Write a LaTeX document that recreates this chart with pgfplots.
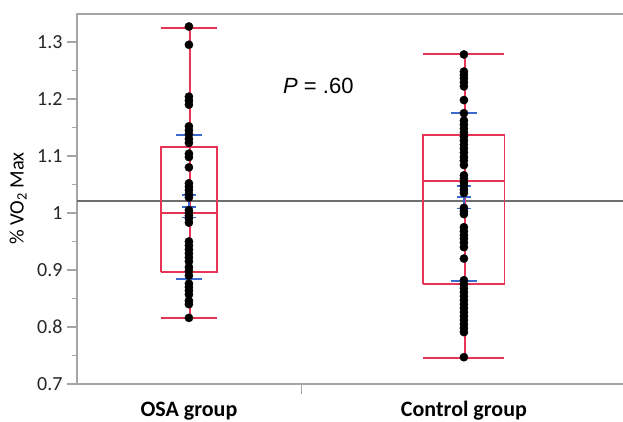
\documentclass[border=0pt]{standalone}
\usepackage{pgfplots}
\usepackage{pgfplotstable}
\pgfplotsset{compat=1.18}
\usepackage{fontspec}
\setmainfont{Carlito}
\newfontfamily\arialf{Liberation Sans}

\definecolor{boxred}{RGB}{232,52,86}
\definecolor{ciblue}{RGB}{60,105,205}
\definecolor{framegray}{RGB}{165,165,165}
\definecolor{meangray}{RGB}{110,110,110}

% individual values
\pgfplotstableread{
v
1.327
1.295
1.204
1.197
1.190
1.152
1.145
1.138
1.130
1.123
1.104
1.098
1.080
1.052
1.046
1.040
1.033
1.027
1.005
1.000
0.995
0.990
0.983
0.950
0.943
0.936
0.929
0.922
0.915
0.905
0.898
0.890
0.876
0.870
0.864
0.857
0.846
0.840
0.816
}\osadata

\pgfplotstableread{
v
1.278
1.248
1.242
1.236
1.229
1.222
1.198
1.175
1.162
1.155
1.148
1.141
1.134
1.127
1.120
1.113
1.106
1.098
1.092
1.084
1.066
1.060
1.054
1.048
1.041
1.035
1.009
1.003
0.998
0.975
0.968
0.961
0.955
0.948
0.940
0.920
0.882
0.875
0.868
0.861
0.854
0.847
0.840
0.833
0.826
0.819
0.812
0.805
0.798
0.791
0.747
}\ctrldata

\begin{document}
\begin{tikzpicture}
\begin{axis}[
    at={(77pt,38pt)}, anchor=south west,
    scale only axis,
    width=550pt, height=370pt,
    xmin=-0.407, xmax=1.593,
    ymin=0.7, ymax=1.349,
    clip=false,
    axis line style={framegray, line width=1.6pt},
    tick align=outside,
    ytick pos=left, xtick pos=bottom,
    ytick={0.7,0.8,...,1.31},
    minor y tick num=1,
    major tick length=10pt, minor tick length=5pt,
    tick style={framegray, line width=1.2pt},
    xtick={0.41},
    xticklabels={},
    yticklabel style={font=\fontsize{20}{24}\selectfont, text=black!85, xshift=-1pt},
    /pgf/number format/assume math mode=true,
    ylabel={\% VO\textsubscript{2} Max},
    every axis y label/.style={at={(axis description cs:-0.107,0.501)}, rotate=90, anchor=center, font=\fontsize{20.5}{24}\selectfont},
]

% grand mean
\addplot[meangray, line width=1.3pt] coordinates {(-0.407,1.021) (1.593,1.021)};

% individual points
\addplot[only marks, mark=*, mark size=4.1pt, black] table[x expr=0, y=v] {\osadata};
\addplot[only marks, mark=*, mark size=4.1pt, black] table[x expr=1, y=v] {\ctrldata};

% box plots: box, median, whiskers and caps
\addplot[boxred, line width=1.8pt, unbounded coords=jump] coordinates {
    (-0.102,0.896) (0.102,0.896) (0.102,1.116) (-0.102,1.116) (-0.102,0.896) (nan,nan)
    (-0.102,1.000) (0.102,1.000) (nan,nan)
    (0.003,0.816) (0.003,1.325) (nan,nan)
    (-0.102,1.325) (0.102,1.325) (nan,nan)
    (-0.102,0.816) (0.102,0.816)
};
\addplot[boxred, line width=1.8pt, unbounded coords=jump] coordinates {
    (0.8525,0.875) (1.1475,0.875) (1.1475,1.137) (0.8525,1.137) (0.8525,0.875) (nan,nan)
    (0.8525,1.056) (1.1475,1.056) (nan,nan)
    (1.003,0.746) (1.003,1.279) (nan,nan)
    (0.8525,1.279) (1.1475,1.279) (nan,nan)
    (0.8525,0.746) (1.1475,0.746)
};

% mean, confidence interval and standard deviation marks
\addplot[ciblue, line width=1.7pt, unbounded coords=jump] coordinates {
    (-0.046,1.137) (0.046,1.137) (nan,nan)
    (-0.046,0.884) (0.046,0.884) (nan,nan)
    (-0.024,1.032) (0.024,1.032) (nan,nan)
    (-0.024,1.011) (0.024,1.011) (nan,nan)
    (-0.024,0.992) (0.024,0.992) (nan,nan)
    (0,0.992) (0,1.032)
};
\addplot[ciblue, line width=1.7pt, unbounded coords=jump] coordinates {
    (0.954,1.175) (1.046,1.175) (nan,nan)
    (0.954,0.881) (1.046,0.881) (nan,nan)
    (0.976,1.047) (1.024,1.047) (nan,nan)
    (0.976,1.028) (1.024,1.028) (nan,nan)
    (0.976,1.008) (1.024,1.008) (nan,nan)
    (1,1.008) (1,1.047)
};

% group names and test result
\node[anchor=base, font=\bfseries\fontsize{22}{26}\selectfont] at (axis cs:0,0.643) {OSA group};
\node[anchor=base, font=\bfseries\fontsize{22}{26}\selectfont] at (axis cs:1,0.643) {Control group};
\node[anchor=west, inner sep=0pt, font=\arialf\fontsize{22}{26}\selectfont] at (axis cs:0.342,1.223) {\textit{P} = .60};
\end{axis}
\pgfresetboundingbox
\path[use as bounding box] (0,0) rectangle (623pt,422pt);
\end{tikzpicture}
\end{document}
